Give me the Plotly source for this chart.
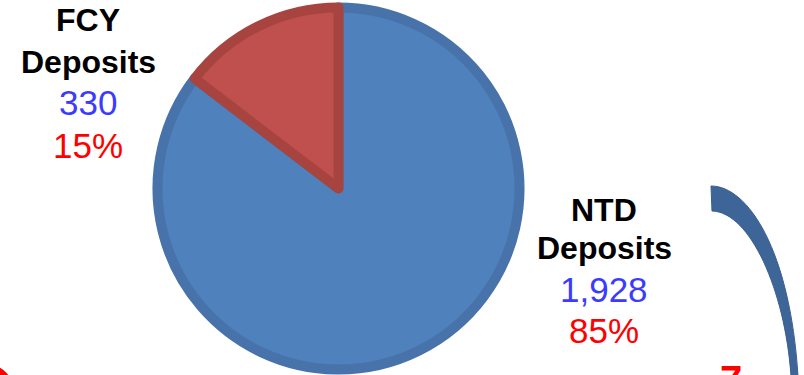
import plotly.graph_objects as go

# ---- data ----
categories = ["NTD Deposits", "FCY Deposits"]
label_lines = [["NTD", "Deposits"], ["FCY", "Deposits"]]
values = [1928, 330]
value_text = ["1,928", "330"]
pct_text = ["85%", "15%"]

W, H = 804, 375
fill_colors = ["#4F81BD", "#C0504D"]
edge_colors = ["#4872AA", "#A8443F"]

fig = go.Figure()
cx, cy, r = 338.5, 188.5, 181
fig.add_trace(go.Pie(
    labels=categories,
    values=values,
    sort=False,
    direction="clockwise",
    rotation=0,
    textinfo="none",
    hoverinfo="label+value+percent",
    marker=dict(colors=fill_colors, line=dict(color=edge_colors, width=10)),
    domain=dict(x=[(cx - r) / W, (cx + r) / W],
                y=[(H - cy - r) / H, (H - cy + r) / H]),
    showlegend=False,
))

FONT = "Arial, Liberation Sans, sans-serif"

def px(x, y):
    return x / W, 1 - y / H

label_pos = [(604, [210, 248, 289, 330]), (88, [20, 62, 103, 145])]
anns = []
for i, (x, ys) in enumerate(label_pos):
    texts = [label_lines[i][0], label_lines[i][1], value_text[i], pct_text[i]]
    styles = [("#000000", 32, True), ("#000000", 32, True),
              ("#3B3BFF", 35, False), ("#FF0000", 35, False)]
    for t, yy, (col, sz, bold) in zip(texts, ys, styles):
        xx, yp = px(x, yy)
        anns.append(dict(
            x=xx, y=yp, xref="paper", yref="paper",
            text=f"<b>{t}</b>" if bold else t,
            showarrow=False, xanchor="center", yanchor="middle",
            font=dict(family=FONT, size=sz, color=col),
        ))

# cut-off red glyph at bottom right
xx, yp = px(731, 356)
anns.append(dict(x=xx, y=yp, xref="paper", yref="paper", text="<b>7</b>",
                 showarrow=False, xanchor="center", yanchor="top",
                 font=dict(family=FONT, size=40, color="#FF0000")))

def P(x, y):
    a, b = px(x, y)
    return f"{a:.5f},{b:.5f}"

arrow_path = ("M " + P(711, 186) +
              " C " + P(748, 186) + " " + P(790, 250) + " " + P(798, 376) +
              " L " + P(791, 376) +
              " C " + P(785, 290) + " " + P(750, 212) + " " + P(712, 211) + " Z")

shapes = [
    dict(type="path", xref="paper", yref="paper", path=arrow_path,
         fillcolor="#3E6597", line=dict(color="#3A5F8E", width=1)),
    dict(type="circle", xref="paper", yref="paper",
         x0=-42 / W, x1=14 / W, y0=1 - 420 / H, y1=1 - 364 / H,
         fillcolor="#FF0000", line=dict(width=0)),
]

fig.update_layout(
    width=W, height=H,
    margin=dict(l=0, r=0, t=0, b=0),
    paper_bgcolor="white", plot_bgcolor="white",
    annotations=anns, shapes=shapes,
)

fig.write_html("out.html",
               config={"displayModeBar": False},
               post_script="document.body.style.margin='0px';document.body.style.overflow='hidden';")
